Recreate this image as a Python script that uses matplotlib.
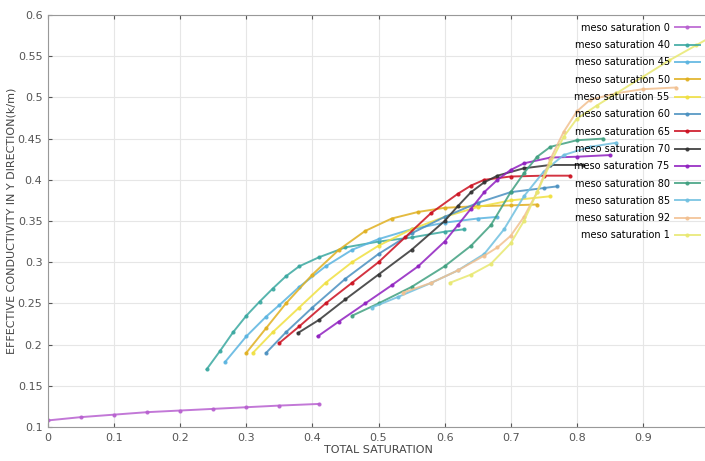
import matplotlib
matplotlib.use('Agg')
import matplotlib.pyplot as plt

plt.rcParams['font.family'] = ['Liberation Sans Narrow', 'DejaVu Sans']

# legend labels and colours
labels = ['meso saturation 0', 'meso saturation 40', 'meso saturation 45', 'meso saturation 50',
          'meso saturation 55', 'meso saturation 60', 'meso saturation 65', 'meso saturation 70',
          'meso saturation 75', 'meso saturation 80', 'meso saturation 85', 'meso saturation 92',
          'meso saturation 1']
colors = ['#b860d0', '#3aa8a0', '#5ab4e0', '#e0b020', '#f0e040', '#4a90c0', '#cc1020',
          '#333333', '#9020c0', '#40a080', '#70c0e0', '#f2c090', '#e8e870']

# values (total saturation, effective conductivity)
x0 = [0.0, 0.05, 0.10, 0.15, 0.20, 0.25, 0.30, 0.35, 0.41]
y0 = [0.108, 0.112, 0.115, 0.118, 0.120, 0.122, 0.124, 0.126, 0.128]

x40 = [0.24, 0.26, 0.28, 0.30, 0.32, 0.34, 0.36, 0.38, 0.41, 0.45, 0.50, 0.55, 0.60, 0.63]
y40 = [0.170, 0.192, 0.215, 0.235, 0.252, 0.268, 0.283, 0.295, 0.306, 0.318, 0.325, 0.330, 0.337, 0.340]

x45 = [0.268, 0.30, 0.33, 0.35, 0.38, 0.42, 0.46, 0.50, 0.55, 0.60, 0.65, 0.68]
y45 = [0.179, 0.210, 0.234, 0.248, 0.270, 0.295, 0.315, 0.328, 0.340, 0.348, 0.353, 0.355]

x50 = [0.30, 0.33, 0.36, 0.40, 0.44, 0.48, 0.52, 0.56, 0.60, 0.65, 0.70, 0.74]
y50 = [0.190, 0.220, 0.250, 0.285, 0.315, 0.338, 0.353, 0.361, 0.366, 0.368, 0.369, 0.370]

x55 = [0.31, 0.34, 0.38, 0.42, 0.46, 0.50, 0.55, 0.60, 0.65, 0.70, 0.76]
y55 = [0.190, 0.215, 0.245, 0.275, 0.300, 0.320, 0.340, 0.355, 0.367, 0.375, 0.380]

x60 = [0.33, 0.36, 0.40, 0.45, 0.50, 0.55, 0.60, 0.65, 0.70, 0.75, 0.77]
y60 = [0.190, 0.215, 0.245, 0.280, 0.310, 0.335, 0.355, 0.372, 0.385, 0.390, 0.392]

x65 = [0.35, 0.38, 0.42, 0.46, 0.50, 0.54, 0.58, 0.62, 0.64, 0.66, 0.70, 0.75, 0.79]
y65 = [0.202, 0.222, 0.250, 0.275, 0.300, 0.330, 0.360, 0.383, 0.393, 0.400, 0.404, 0.405, 0.405]

x70 = [0.378, 0.41, 0.45, 0.50, 0.55, 0.60, 0.62, 0.64, 0.66, 0.68, 0.72, 0.76, 0.81]
y70 = [0.214, 0.230, 0.255, 0.285, 0.315, 0.350, 0.368, 0.385, 0.397, 0.405, 0.414, 0.418, 0.418]

x75 = [0.408, 0.44, 0.48, 0.52, 0.56, 0.60, 0.62, 0.64, 0.66, 0.68, 0.70, 0.72, 0.76, 0.80, 0.85]
y75 = [0.210, 0.228, 0.250, 0.272, 0.295, 0.325, 0.345, 0.365, 0.385, 0.400, 0.412, 0.420, 0.427, 0.428, 0.430]

x80 = [0.46, 0.50, 0.55, 0.60, 0.64, 0.67, 0.70, 0.72, 0.74, 0.76, 0.80, 0.84]
y80 = [0.235, 0.250, 0.270, 0.295, 0.320, 0.345, 0.385, 0.408, 0.428, 0.440, 0.448, 0.450]

x85 = [0.49, 0.53, 0.58, 0.62, 0.66, 0.69, 0.72, 0.75, 0.78, 0.82, 0.86]
y85 = [0.245, 0.258, 0.275, 0.290, 0.310, 0.340, 0.380, 0.410, 0.430, 0.440, 0.445]

x92 = [0.537, 0.58, 0.62, 0.66, 0.68, 0.70, 0.72, 0.74, 0.76, 0.78, 0.80, 0.82, 0.86, 0.90, 0.95]
y92 = [0.263, 0.275, 0.290, 0.308, 0.318, 0.332, 0.355, 0.385, 0.425, 0.458, 0.483, 0.497, 0.505, 0.510, 0.512]

x1 = [0.608, 0.64, 0.67, 0.70, 0.72, 0.74, 0.76, 0.78, 0.80, 0.83, 0.86, 0.90, 0.94, 0.98, 1.0]
y1 = [0.275, 0.285, 0.298, 0.323, 0.350, 0.385, 0.420, 0.452, 0.474, 0.490, 0.505, 0.525, 0.545, 0.563, 0.572]

xs = [x0, x40, x45, x50, x55, x60, x65, x70, x75, x80, x85, x92, x1]
ys = [y0, y40, y45, y50, y55, y60, y65, y70, y75, y80, y85, y92, y1]

xticks = [0, 0.1, 0.2, 0.3, 0.4, 0.5, 0.6, 0.7, 0.8, 0.9]
xticklabels = ['0', '0.1', '0.2', '0.3', '0.4', '0.5', '0.6', '0.7', '0.8', '0.9']
yticks = [0.1, 0.15, 0.2, 0.25, 0.3, 0.35, 0.4, 0.45, 0.5, 0.55, 0.6]
yticklabels = ['0.1', '0.15', '0.2', '0.25', '0.3', '0.35', '0.4', '0.45', '0.5', '0.55', '0.6']

fig = plt.figure(figsize=(7.05, 4.61), dpi=100)
ax = fig.add_axes([48/705, 34/461, 661/705, 412/461])

for x, y, c, lab in zip(xs, ys, colors, labels):
    ax.plot(x, y, color=c, lw=1.4, marker='o', ms=2.0, mfc=c, mec=c, alpha=0.85, label=lab)

ax.set_xlim(0, 1)
ax.set_ylim(0.1, 0.6)
ax.set_xticks(xticks)
ax.set_xticklabels(xticklabels)
ax.set_yticks(yticks)
ax.set_yticklabels(yticklabels)
ax.tick_params(direction='in', length=3, top=True, right=True, labelsize=8, colors='#555555', pad=4)
ax.grid(True, color='#e6e6e6', lw=0.8)
for s in ax.spines.values():
    s.set_color('#999999')

ax.set_xlabel('TOTAL SATURATION', fontsize=8, color='#444444', labelpad=2)
ax.set_ylabel('EFFECTIVE CONDUCTIVITY IN Y DIRECTION(k/m)', fontsize=8, color='#444444', labelpad=1)

ax.legend(loc='upper right', bbox_to_anchor=(0.995, 0.995), frameon=False, markerfirst=False,
          fontsize=7, labelspacing=0.75, handlelength=2.6, handletextpad=0.5, borderaxespad=0.2)

fig.savefig('out.png', dpi=100)
